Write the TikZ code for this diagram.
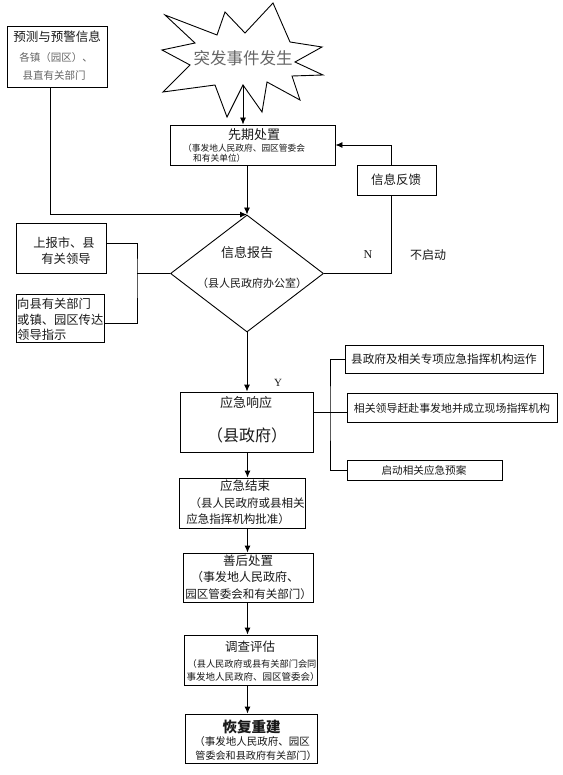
\documentclass[tikz,border=0pt]{standalone}
\usepackage{fontspec}
\setmainfont{Noto Sans CJK SC}
\newfontfamily\latinserif{Liberation Serif}
\usetikzlibrary{arrows.meta,shapes.geometric,fit}
\newcommand\myfs[1]{\fontsize{#1}{#1}\selectfont}
\begin{document}
\begin{tikzpicture}[x=1pt,y=-1pt,
  box/.style={draw, line width=0.9pt, inner sep=0pt},
  txt/.style={inner sep=0pt, text=black!90},
  gtxt/.style={inner sep=0pt, text=black!60},
  arr/.style={line width=0.9pt, -{Latex[length=7pt,width=6pt]}},
  ln/.style={line width=0.9pt}]
\fill[white] (0,0) rectangle (562,775);
\useasboundingbox (0,0) rectangle (562,775);

% star
\draw[ln] (273,3) -- (290,42) -- (322,47) -- (295,62) -- (323,75) -- (292,76)
  -- (300,100) -- (267,82) -- (262,112) -- (243,85) -- (227,117) -- (215,85)
  -- (163,92) -- (190,65) -- (162,50) -- (195,43) -- (165,15) -- (217,35)
  -- (225,12) -- (245,33) -- cycle;
\node[gtxt, font=\myfs{16.5}] (star) at (243,58) {突发事件发生};
\coordinate (st) at (243,85);

% boxes
\node[box, fit={(7,26) (107,87)}] (yc) {};
\node[box, fit={(170,125) (335,165)}] (xq) {};
\node[box, fit={(357,165) (436,195)}] (fk) {};
\node[box, fit={(16,223) (106,273)}] (sb) {};
\node[box, fit={(16,294) (104,342)}] (xd) {};
\node[box, fit={(180,392) (313,452)}] (xy) {};
\node[box, fit={(345,345) (543,373)}] (r1) {};
\node[box, fit={(347,393) (557,422)}] (r2) {};
\node[box, fit={(347,460) (502,480)}] (r3) {};
\node[box, fit={(179,478) (305,528)}] (js) {};
\node[box, fit={(183,553) (313,602)}] (sh) {};
\node[box, fit={(184,635) (317,685)}] (dc) {};
\node[box, fit={(185,714) (317,763)}] (hf) {};
\node[draw, diamond, line width=0.9pt, minimum width=153pt, minimum height=117pt, inner sep=0pt] (dia) at (247,273.5) {};

% texts
\node[txt, font=\myfs{12.5}] (t1) at (57,37) {预测与预警信息};
\node[gtxt, font=\myfs{10.5}] (t2) at (56,58) {各镇（园区）、};
\node[gtxt, font=\myfs{10.5}] (t3) at (54,75) {县直有关部门};

\node[txt, font=\myfs{13}] (t4) at (254,135) {先期处置};
\node[txt, font=\myfs{8.7}, anchor=west] (t5) at (183,148) {（事发地人民政府、园区管委会};
\node[txt, font=\myfs{8.7}, anchor=west] (t6) at (193,158) {和有关单位）};

\node[txt, font=\myfs{12.5}] (t7) at (396,180) {信息反馈};

\node[txt, font=\myfs{13}] (t8) at (247,253) {信息报告};
\node[txt, font=\myfs{11}] (t9) at (252,283) {（县人民政府办公室）};
\node[txt, font=\latinserif\myfs{12}] (tn) at (368,255) {N};
\node[txt, font=\myfs{12}] (t10) at (428,255) {不启动};

\node[txt, font=\myfs{12.3}] (t11) at (64,243) {上报市、县};
\node[txt, font=\myfs{12.3}] (t12) at (66,259) {有关领导};
\node[txt, font=\myfs{12.3}, anchor=west] (t13) at (17,304) {向县有关部门};
\node[txt, font=\myfs{12.3}, anchor=west] (t14) at (17,320) {或镇、园区传达};
\node[txt, font=\myfs{12.3}, anchor=west] (t15) at (17,335) {领导指示};

\node[txt, font=\latinserif\myfs{11}] (ty) at (278,383) {Y};
\node[txt, font=\myfs{13}] (t16) at (246,403) {应急响应};
\node[txt, font=\myfs{16}] (t17) at (247,435) {（县政府）};

\node[txt, font=\myfs{11.6}] (t18) at (444,359) {县政府及相关专项应急指挥机构运作};
\node[txt, font=\myfs{10.9}] (t19) at (452,408) {相关领导赶赴事发地并成立现场指挥机构};
\node[txt, font=\myfs{10.6}] (t20) at (424,470) {启动相关应急预案};

\node[txt, font=\myfs{12.5}] (t21) at (245,486) {应急结束};
\node[txt, font=\myfs{11.5}] (t22) at (247,503) {（县人民政府或县相关};
\node[txt, font=\myfs{11.5}] (t23) at (238,519) {应急指挥机构批准）};

\node[txt, font=\myfs{12.5}] (t24) at (248,561) {善后处置};
\node[txt, font=\myfs{12}] (t25) at (245,577) {（事发地人民政府、};
\node[txt, font=\myfs{11.5}] (t26) at (248.5,594) {园区管委会和有关部门）};

\node[txt, font=\myfs{12.5}] (t27) at (250,647) {调查评估};
\node[txt, font=\myfs{9.2}] (t28) at (252,664) {（县人民政府或县有关部门会同};
\node[txt, font=\myfs{9.5}] (t29) at (253,677) {事发地人民政府、园区管委会）};

\node[txt, font=\bfseries\myfs{14.5}] (t30) at (251.5,727) {恢复重建};
\node[txt, font=\myfs{10.5}] (t31) at (252,742) {（事发地人民政府、园区};
\node[txt, font=\myfs{10.1}] (t32) at (256,756) {管委会和县政府有关部门）};

% connectors
\draw[arr] (st) -- (st |- xq.north);
\draw[arr] ([xshift=-6.5pt]yc.south) |- (dia.north);
\draw[arr] (dia.north |- xq.south) -- (dia.north);
\draw[ln] (dia.east) -| ([xshift=-5.5pt]fk.south);
\draw[arr] ([xshift=-5.5pt]fk.north) |- (xq.east);
\coordinate (lj) at (137,273.5);
\draw[ln] ([yshift=5pt]sb.east) -| (lj) |- ([yshift=-5pt]xd.east);
\draw[ln] (lj) -- (dia.west);
\draw[arr] (dia.south) -- (dia.south |- xy.north);
\coordinate (rj) at (330,412);
\draw[ln] (xy.east |- rj) -- (r2.west |- rj);
\draw[ln] (r1.west) -| (rj) |- (r3.west);
\coordinate (ax) at (247.5,0);
\draw[arr] (xy.south -| ax) -- (js.north -| ax);
\draw[arr] (js.south -| ax) -- (sh.north -| ax);
\draw[arr] (sh.south -| ax) -- (dc.north -| ax);
\draw[arr] (dc.south -| ax) -- (hf.north -| ax);
\end{tikzpicture}
\end{document}
